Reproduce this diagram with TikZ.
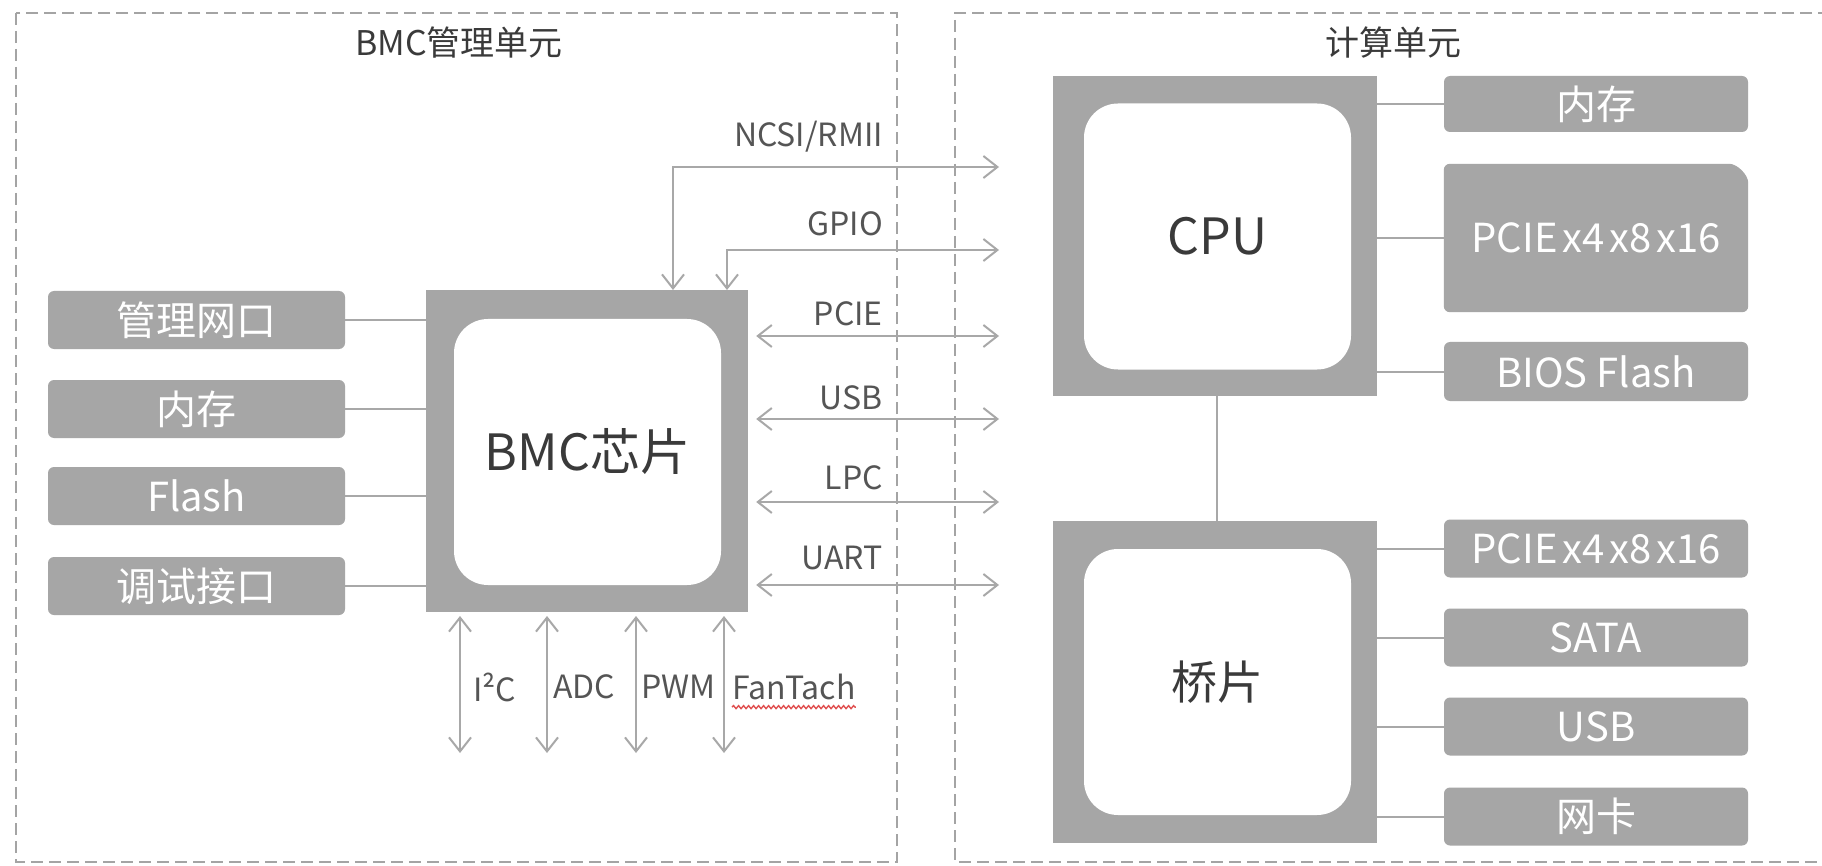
\documentclass[tikz,border=0pt]{standalone}
\usepackage{fontspec}
\setmainfont{Noto Sans CJK SC}
\usetikzlibrary{arrows.meta,decorations.pathmorphing,calc}
\definecolor{boxgray}{HTML}{A6A6A6}
\definecolor{linegray}{HTML}{A8A8A8}
\definecolor{labeltxt}{HTML}{555555}
\definecolor{chiptxt}{HTML}{3A3A3A}
\definecolor{dashgray}{HTML}{A4A4A4}
\definecolor{spellred}{HTML}{E05050}
\newcommand{\fs}[1]{\fontsize{#1}{#1}\selectfont}
\newcommand{\nsp}{\hspace{0.12em}}
\begin{document}
\begin{tikzpicture}[x=1pt,y=-1pt,
  graybox/.style={fill=boxgray, rounded corners=6pt, text=white, font=\fs{40}, inner sep=0pt, minimum height=58pt},
  leftbox/.style={graybox, minimum width=297pt},
  rightbox/.style={graybox, minimum width=304pt},
  chipouter/.style={fill=boxgray, inner sep=0pt, minimum width=322pt, minimum height=322pt},
  chipinner/.style={fill=white, rounded corners=34pt, inner sep=0pt, minimum width=267pt, minimum height=266pt, text=chiptxt},
  conn/.style={draw=linegray, line width=2pt},
  biarrow/.style={conn, {Straight Barb[length=14pt,width=22pt]}-{Straight Barb[length=14pt,width=22pt]}},
  siglabel/.style={text=labeltxt, font=\fs{32}, inner sep=0pt},
  unitbox/.style={draw=dashgray, line width=1.6pt, dash pattern=on 12pt off 6pt},
  title/.style={text=chiptxt, font=\fs{34}, inner sep=0pt}
]
\useasboundingbox (0,0) rectangle (1822,866);
\fill[white] (0,0) rectangle (1822,866);

% unit frames
\draw[unitbox] (16,13) rectangle (897,862);
\draw[unitbox] (1830,13) -- (955,13) -- (955,862) -- (1830,862);
\node[title] (t1) at (459,43) {BMC管理单元};
\node[title] (t2) at (1393,43) {计算单元};

% BMC chip
\node[chipouter] (bmco) at (587,451) {};
\node[chipinner, font=\fs{50}] (bmci) at (587.5,452) {BMC芯片};

% left boxes
\node[leftbox] (mgmt) at (196.5,320) {管理网口};
\node[leftbox] (mem1) at (196.5,409) {内存};
\node[leftbox] (flash) at (196.5,496) {Flash};
\node[leftbox] (dbg) at (196.5,586) {调试接口};
\foreach \n in {mgmt,mem1,flash,dbg}
  \draw[conn] (\n.east) -- (\n.east -| bmco.west);

% signal arrows to the right
\coordinate (r1) at (999,167);
\coordinate (r2) at (999,250);
\coordinate (r3) at (999,336);
\coordinate (r4) at (999,419);
\coordinate (r5) at (999,502);
\coordinate (r6) at (999,585);
\coordinate (n1) at (673,290);
\coordinate (g1) at (727,290);
\draw[biarrow] (n1) |- (r1);
\draw[biarrow] (g1) |- (r2);
\foreach \c in {r3,r4,r5,r6}
  \draw[biarrow] ([xshift=8pt]bmco.east |- \c) -- (\c);
\node[siglabel, anchor=east] (l1) at (883,137) {NCSI/RMII};
\node[siglabel, anchor=east] (l2) at (883,224) {GPIO};
\node[siglabel, anchor=east] (l3) at (883,314) {PCIE};
\node[siglabel, anchor=east] (l4) at (883,398) {USB};
\node[siglabel, anchor=east] (l5) at (883,478) {LPC};
\node[siglabel, anchor=east] (l6) at (883,558) {UART};

% bottom arrows
\foreach \x/\nm in {460/b1,547/b2,636/b3,724/b4}{
  \coordinate (\nm top) at (\x,616);
  \coordinate (\nm bot) at (\x,753);
  \draw[biarrow] (\nm top) -- (\nm bot);
}
\node[siglabel, anchor=west] (i2c) at (473,687) {I²C};
\node[siglabel, anchor=west] (adc) at (553,687) {ADC};
\node[siglabel, anchor=west] (pwm) at (641,687) {PWM};
\node[siglabel, anchor=west] (fan) at (732,687) {FanTach};
\draw[spellred, line width=1.4pt, decorate, decoration={snake, amplitude=1.5pt, segment length=5pt}] ([yshift=-7pt]fan.south west) -- ([yshift=-7pt]fan.south east);

% CPU
\node[chipouter, minimum width=324pt, minimum height=320pt] (cpuo) at (1215,236) {};
\node[chipinner, font=\fs{50}] (cpui) at (1217.5,236.5) {CPU};
% bridge
\node[chipouter, minimum width=324pt] (bro) at (1215,682) {};
\node[chipinner, font=\fs{46}] (bri) at (1217.5,682) {桥片};
\draw[conn] ([xshift=2pt]cpuo.south) -- ([xshift=2pt]bro.north);

% right boxes (CPU)
\node[rightbox, minimum height=56pt] (mem2) at (1596,104) {内存};
\node[inner sep=0pt, minimum width=304pt, minimum height=148pt] (pcie1) at (1596,238) {};
\fill[boxgray, rounded corners=6pt] (pcie1.south west) -- (pcie1.north west) -- ([xshift=-25pt]pcie1.north east) .. controls ([xshift=-11pt]pcie1.north east) and ([yshift=-11pt]pcie1.north east) .. ([yshift=-25pt]pcie1.north east) -- (pcie1.south east) -- cycle;
\node[text=white, font=\fs{40}, inner sep=0pt] at (pcie1.center) {PCIE\nsp x4\nsp x8\nsp x16};
\node[rightbox, minimum height=59pt] (bios) at (1596,371.5) {BIOS Flash};
\foreach \n in {mem2,pcie1,bios}
  \draw[conn] (\n.west -| cpuo.east) -- (\n.west);

% right boxes (bridge)
\node[rightbox] (pcie2) at (1596,548.5) {PCIE\nsp x4\nsp x8\nsp x16};
\node[rightbox] (sata) at (1596,637.5) {SATA};
\node[rightbox] (usb) at (1596,726.5) {USB};
\node[rightbox] (nic) at (1596,816.5) {网卡};
\foreach \n in {pcie2,sata,usb,nic}
  \draw[conn] (\n.west -| bro.east) -- (\n.west);
\end{tikzpicture}
\end{document}
